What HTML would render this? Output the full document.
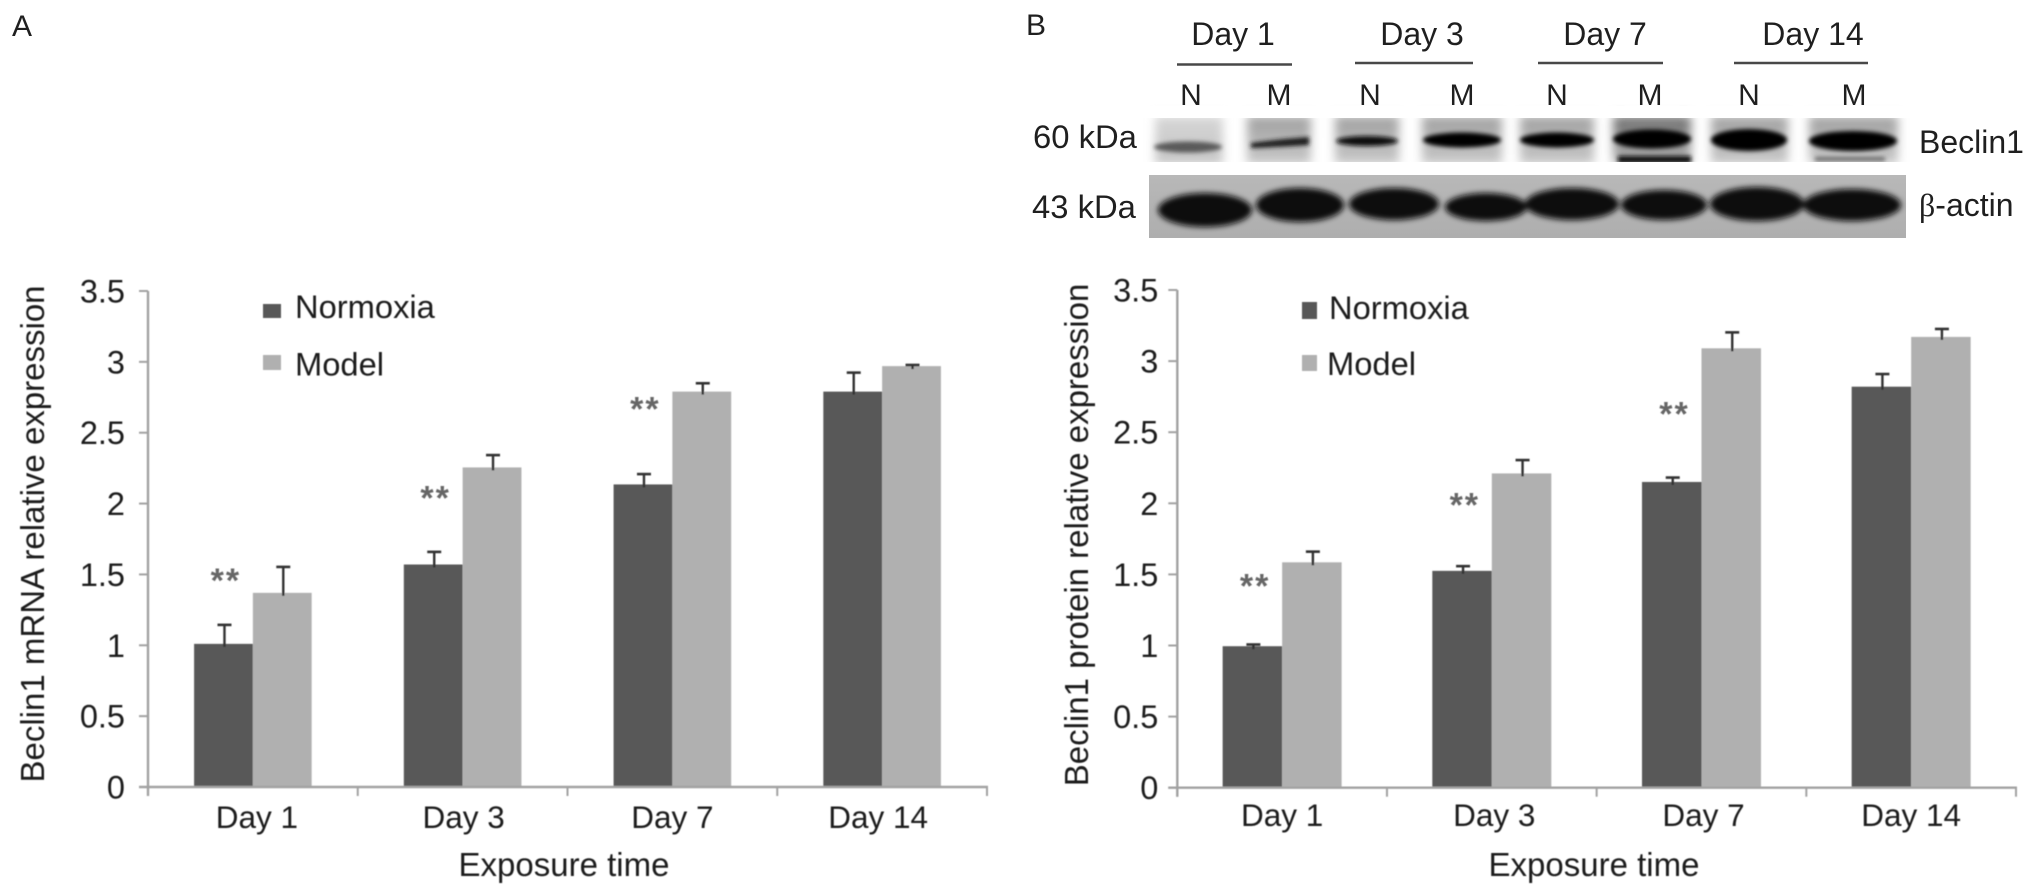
<!DOCTYPE html>
<html lang="en">
<head>
<meta charset="utf-8">
<title>Beclin1 expression</title>
<style>
html,body{margin:0;padding:0;background:#fff;width:2032px;height:896px;overflow:hidden}
svg{display:block}
text{font-family:"Liberation Sans",Arial,sans-serif;fill:#1f1f1f}
</style>
</head>
<body>
<svg id="figure" xmlns="http://www.w3.org/2000/svg" width="2032" height="896" viewBox="0 0 2032 896">
  <defs>
    <filter id="soft" x="-5%" y="-5%" width="110%" height="110%"><feGaussianBlur stdDeviation="0.55"/></filter>
    <filter id="b1" x="-20%" y="-80%" width="140%" height="260%"><feGaussianBlur stdDeviation="2.2"/></filter>
    <filter id="b2" x="-20%" y="-40%" width="140%" height="180%"><feGaussianBlur stdDeviation="5"/></filter>
    <filter id="b3" x="-20%" y="-40%" width="140%" height="180%"><feGaussianBlur stdDeviation="3"/></filter>
    <linearGradient id="smudgeLight" x1="0" y1="0" x2="0" y2="1"><stop offset="0" stop-color="#d6d6d6"/><stop offset="1" stop-color="#c4c4c4"/></linearGradient>
    <linearGradient id="smudgeMid" x1="0" y1="0" x2="0" y2="1"><stop offset="0" stop-color="#a0a0a0"/><stop offset="1" stop-color="#c8c8c8"/></linearGradient>
    <linearGradient id="smudgeDark" x1="0" y1="0" x2="0" y2="1"><stop offset="0" stop-color="#6e6e6e"/><stop offset="1" stop-color="#b0b0b0"/></linearGradient>
    <linearGradient id="actinBg" x1="0" y1="0" x2="0" y2="1"><stop offset="0" stop-color="#b8b8b8"/><stop offset="1" stop-color="#aeaeae"/></linearGradient>
  </defs>

  <text x="12" y="36" font-size="30">A</text>
  <text x="1026" y="35" font-size="30">B</text>

  <g>
    <g font-size="32" text-anchor="middle">
      <text x="1233" y="45">Day 1</text>
      <text x="1422" y="45">Day 3</text>
      <text x="1605" y="45">Day 7</text>
      <text x="1813" y="45">Day 14</text>
    </g>
    <g stroke="#484848" stroke-width="2.5">
      <line x1="1177" x2="1292" y1="64.5" y2="64.5"/>
      <line x1="1355" x2="1473" y1="63" y2="63"/>
      <line x1="1538" x2="1663" y1="63" y2="63"/>
      <line x1="1734" x2="1868" y1="63" y2="63"/>
    </g>
    <g font-size="30" text-anchor="middle">
      <text x="1191" y="105">N</text>
      <text x="1279" y="105">M</text>
      <text x="1370" y="105">N</text>
      <text x="1462" y="105">M</text>
      <text x="1557" y="105">N</text>
      <text x="1650" y="105">M</text>
      <text x="1749" y="105">N</text>
      <text x="1854" y="105">M</text>
    </g>
    <text x="1033" y="148" font-size="32.8">60 kDa</text>
    <text x="1032" y="218" font-size="32.8">43 kDa</text>
    <text x="1919" y="153" font-size="32">Beclin1</text>
    <text x="1919" y="216" font-size="32"><tspan font-family="'Liberation Serif',serif">β</tspan>-actin</text>
  </g>

  <g>
    <g filter="url(#b2)">
      <rect x="1155" y="116" width="68" height="48" fill="url(#smudgeLight)"/>
      <rect x="1247" y="116" width="64" height="48" fill="url(#smudgeMid)"/>
      <rect x="1335" y="116" width="64" height="48" fill="url(#smudgeMid)"/>
      <rect x="1422" y="116" width="80" height="48" fill="url(#smudgeMid)"/>
      <rect x="1520" y="116" width="74" height="48" fill="url(#smudgeMid)"/>
      <rect x="1613" y="116" width="78" height="48" fill="url(#smudgeDark)"/>
      <rect x="1711" y="116" width="77" height="48" fill="url(#smudgeMid)"/>
      <rect x="1809" y="116" width="89" height="48" fill="url(#smudgeMid)"/>
    </g>
    <g filter="url(#b1)">
      <ellipse cx="1188" cy="147" rx="34" ry="5.5" fill="#5a5a5a"/>
      <path d="M1251 143 Q1280 139 1309 137 L1309 145 Q1280 147 1251 148 Z" fill="#1c1c1c"/>
      <ellipse cx="1367" cy="141" rx="31" ry="5" fill="#111"/>
      <ellipse cx="1462" cy="140" rx="39" ry="7.5" fill="#000"/>
      <ellipse cx="1557" cy="140" rx="37" ry="7.5" fill="#000"/>
      <ellipse cx="1652" cy="139" rx="39" ry="9.5" fill="#000"/>
      <rect x="1618" y="156" width="73" height="7" fill="#0a0a0a"/>
      <ellipse cx="1749" cy="140" rx="38" ry="11" fill="#000"/>
      <ellipse cx="1853" cy="141" rx="44" ry="10" fill="#000"/>
      <rect x="1815" y="157" width="70" height="4" fill="#666"/>
    </g>
    <rect x="1140" y="162" width="775" height="13" fill="#fff"/>
    <rect x="1140" y="106" width="775" height="12" fill="#fff"/>
  </g>

  <g>
    <rect x="1149" y="175" width="757" height="63" fill="url(#actinBg)"/>
    <g filter="url(#b3)" fill="#0c0c0c">
      <ellipse cx="1205" cy="210" rx="47" ry="17"/>
      <ellipse cx="1300" cy="205" rx="44" ry="17"/>
      <ellipse cx="1394" cy="204" rx="45" ry="16"/>
      <ellipse cx="1486" cy="207" rx="41" ry="14"/>
      <ellipse cx="1572" cy="204" rx="47" ry="16"/>
      <ellipse cx="1664" cy="205" rx="43" ry="15"/>
      <ellipse cx="1757" cy="204" rx="47" ry="17"/>
      <ellipse cx="1852" cy="205" rx="49" ry="16"/>
    </g>
  </g>

  <g id="panel-a" filter="url(#soft)"></g>
  <g id="panel-b" filter="url(#soft)"></g>
</svg>

<script>
const categories = ['Day 1', 'Day 3', 'Day 7', 'Day 14'];
const yTickLabels = ['0', '0.5', '1', '1.5', '2', '2.5', '3', '3.5'];
const seriesNames = ['Normoxia', 'Model'];

const mrnaNormoxia = [1.01, 1.57, 2.135, 2.79];
const mrnaModel = [1.37, 2.255, 2.79, 2.97];
const mrnaNormoxiaErr = [0.134, 0.089, 0.073, 0.134];
const mrnaModelErr = [0.183, 0.087, 0.059, 0.008];
const mrnaStarLevels = [1.49, 2.07, 2.70];

const proteinNormoxia = [0.995, 1.525, 2.15, 2.82];
const proteinModel = [1.585, 2.21, 3.09, 3.17];
const proteinNormoxiaErr = [0.012, 0.033, 0.031, 0.089];
const proteinModelErr = [0.075, 0.094, 0.112, 0.056];
const proteinStarLevels = [1.45, 2.02, 2.66];

const SVG_NS = 'http://www.w3.org/2000/svg';
const DARK = '#595959';
const LIGHT = '#b0b0b0';
const AXIS = '#a2a2a2';

function mk(parent, tag, attrs, text) {
  const el = document.createElementNS(SVG_NS, tag);
  for (const k in attrs) el.setAttribute(k, attrs[k]);
  if (text !== undefined) el.textContent = text;
  parent.appendChild(el);
  return el;
}

function slug(s) {
  return s.toLowerCase().replace(/[^a-z0-9]+/g, '-');
}

function drawPanel(root, cfg) {
  const yMax = parseFloat(yTickLabels[yTickLabels.length - 1]);
  const yScale = function (v) { return cfg.y0 - (v / yMax) * (cfg.y0 - cfg.y1); };
  const catW = (cfg.x1 - cfg.x0) / categories.length;
  const catCenter = function (i) { return cfg.x0 + catW * (i + 0.5); };

  // bars and error bars
  categories.forEach(function (cat, i) {
    [cfg.normoxia, cfg.model].forEach(function (vals, s) {
      const errs = s === 0 ? cfg.normoxiaErr : cfg.modelErr;
      const left = catCenter(i) - cfg.barW + s * cfg.barW;
      const top = yScale(vals[i]);
      const cx = left + cfg.barW / 2 + 1;
      const key = slug(seriesNames[s]) + '-' + slug(cat);

      const bar = mk(root, 'rect', { x: left, y: top, width: cfg.barW, height: cfg.y0 - top, fill: s === 0 ? DARK : LIGHT });
      
      

      const capY = yScale(vals[i] + errs[i]);
      const stem = mk(root, 'line', { x1: cx, x2: cx, y1: capY, y2: top + 3, stroke: '#333', 'stroke-width': 2.4 });
      
      

      const cap = mk(root, 'line', { x1: cx - 7, x2: cx + 7, y1: capY, y2: capY, stroke: '#333', 'stroke-width': 2.6 });
      
      
    });
  });

  // axes
  const yAxis = mk(root, 'line', { x1: cfg.x0, x2: cfg.x0, y1: cfg.y1, y2: cfg.y0 + 9, stroke: AXIS, 'stroke-width': 2.4 });
  
  

  const xAxis = mk(root, 'line', { x1: cfg.x0 - 9, x2: cfg.x1 + 1, y1: cfg.y0, y2: cfg.y0, stroke: AXIS, 'stroke-width': 2.4 });
  
  

  yTickLabels.forEach(function (lab) {
    const y = yScale(parseFloat(lab));
    const tick = mk(root, 'line', { x1: cfg.x0 - 9, x2: cfg.x0, y1: y, y2: y, stroke: AXIS, 'stroke-width': 2 });
    
    

    const label = mk(root, 'text', { x: cfg.x0 + cfg.yLabelDx, y: y + 11.5, 'font-size': 32.5, 'text-anchor': 'end' }, lab);
    
    
  });

  for (let i = 0; i <= categories.length; i++) {
    const x = cfg.x0 + catW * i;
    const tick = mk(root, 'line', { x1: x, x2: x, y1: cfg.y0, y2: cfg.y0 + 9, stroke: AXIS, 'stroke-width': 2 });
    
    
  }

  categories.forEach(function (cat, i) {
    const label = mk(root, 'text', { x: catCenter(i) + cfg.catNudge[i], y: cfg.catBaseline, 'font-size': 31.5, 'text-anchor': 'middle' }, cat);
    
    
  });

  // significance stars
  cfg.stars.forEach(function (level, i) {
    const star = mk(root, 'text', { x: catCenter(i) - 27, y: yScale(level) + 16, 'font-size': 34, 'font-weight': 'bold', 'letter-spacing': 2, 'text-anchor': 'middle', style: 'fill:#666' }, '**');
    
    
  });

  // titles
  const xTitle = mk(root, 'text', { x: cfg.xTitleX, y: 876, 'font-size': 33, 'text-anchor': 'middle' }, 'Exposure time');
  
  

  const yTitle = mk(root, 'text', { transform: 'translate(' + cfg.yTitleX + ' ' + cfg.yTitleY + ') rotate(-90)', 'font-size': 33, 'text-anchor': 'middle' }, cfg.yTitle);
  
  

  // legend
  seriesNames.forEach(function (name, s) {
    const sw = cfg.legend[s];
    const swatch = mk(root, 'rect', { x: sw.sx, y: sw.sy, width: sw.sw, height: sw.sh, fill: s === 0 ? DARK : LIGHT });
    
    

    const label = mk(root, 'text', { x: sw.tx, y: sw.ty, 'font-size': 32.7 }, name);
    
    
  });
}

drawPanel(document.getElementById('panel-a'), {
  x0: 148, x1: 987, y0: 787, y1: 291, barW: 58.8,
  normoxia: mrnaNormoxia, model: mrnaModel,
  normoxiaErr: mrnaNormoxiaErr, modelErr: mrnaModelErr,
  stars: mrnaStarLevels,
  yLabelDx: -23, catBaseline: 828, catNudge: [4, 1, 0, -4],
  xTitleX: 564, yTitleX: 44, yTitleY: 534,
  yTitle: 'Beclin1 mRNA relative expression',
  legend: [
    { sx: 263, sy: 304, sw: 18, sh: 14, tx: 295, ty: 318 },
    { sx: 263, sy: 355, sw: 18, sh: 15, tx: 295, ty: 375.5 }
  ]
});

drawPanel(document.getElementById('panel-b'), {
  x0: 1177.3, x1: 2016, y0: 787.7, y1: 290, barW: 59.5,
  normoxia: proteinNormoxia, model: proteinModel,
  normoxiaErr: proteinNormoxiaErr, modelErr: proteinModelErr,
  stars: proteinStarLevels,
  yLabelDx: -19, catBaseline: 826, catNudge: [0, 2.5, 2, 0],
  xTitleX: 1594, yTitleX: 1088, yTitleY: 535,
  yTitle: 'Beclin1 protein relative expression',
  legend: [
    { sx: 1302, sy: 302, sw: 15, sh: 17, tx: 1329, ty: 319 },
    { sx: 1302, sy: 355, sw: 15, sh: 16, tx: 1327, ty: 375 }
  ]
});
</script>
</body>
</html>
